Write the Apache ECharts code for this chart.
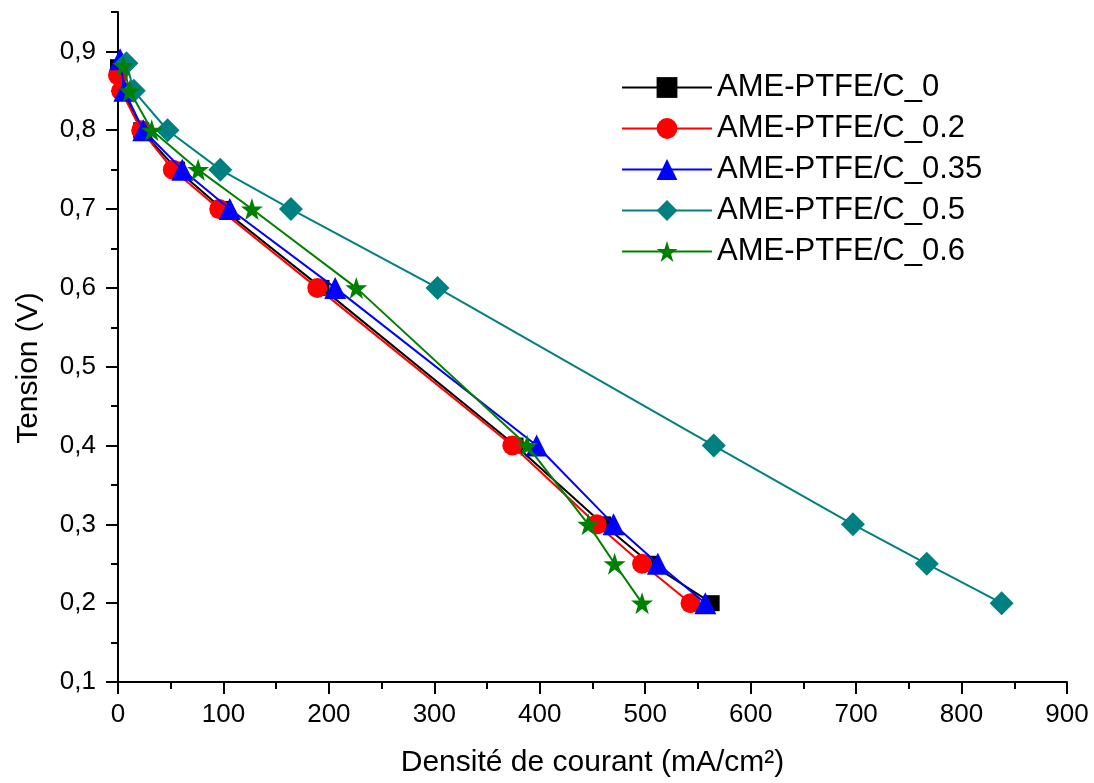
<!DOCTYPE html>
<html>
<head>
<meta charset="utf-8">
<script src="https://cdn.jsdelivr.net/npm/echarts@6/dist/echarts.min.js"></script>
<style>
html,body{margin:0;padding:0;background:#fff;}
#chart{width:1094px;height:783px;}
</style>
</head>
<body>
<div id="chart"></div>
<script>
// ---- Data (x: current density mA/cm², y: voltage V) ----
const seriesNames = ['AME-PTFE/C_0','AME-PTFE/C_0.2','AME-PTFE/C_0.35','AME-PTFE/C_0.5','AME-PTFE/C_0.6'];
const ptfe0   = [[0,0.88],[5,0.85],[22,0.80],[56,0.75],[99,0.70],[193,0.60],[377,0.40],[460,0.30],[505,0.25],[563,0.20]];
const ptfe02  = [[0,0.87],[3,0.85],[22,0.80],[52,0.75],[96,0.70],[189,0.60],[374,0.40],[454,0.30],[497,0.25],[543,0.20]];
const ptfe035 = [[2,0.89],[6,0.85],[24,0.80],[61,0.75],[106,0.70],[206,0.60],[397,0.40],[470,0.30],[512,0.25],[557,0.20]];
const ptfe05  = [[8,0.885],[15,0.85],[47,0.80],[97,0.75],[164,0.70],[303,0.60],[565,0.40],[697,0.30],[767,0.25],[838,0.20]];
const ptfe06  = [[5,0.882],[11,0.85],[32,0.80],[76,0.75],[127,0.70],[226,0.60],[388,0.40],[446,0.30],[471,0.25],[497,0.20]];
const yMajorTicks = [0.1,0.2,0.3,0.4,0.5,0.6,0.7,0.8,0.9];
const yMinorTicks = [0.15,0.25,0.35,0.45,0.55,0.65,0.75,0.85,0.95];
const xTitle = 'Densité de courant (mA/cm²)';
const yTitle = 'Tension (V)';

const colors = ['#000000','#ff0000','#0000ff','#008080','#008000'];
const symbols = ['rect','circle','triangle','diamond','path://M50,0 L61.8,35.1 L98.1,35.1 L68.8,56.7 L79.4,91.5 L50,70 L20.6,91.5 L31.2,56.7 L1.9,35.1 L38.2,35.1 Z'];
const sizes = [16,20,22,24,22];
const datasets = [ptfe0, ptfe02, ptfe035, ptfe05, ptfe06];

const chart = echarts.init(document.getElementById('chart'));
const font = 'Liberation Sans, Arial, sans-serif';
chart.setOption({
  animation:false,
  backgroundColor:'#ffffff',
  grid:{left:118,right:27,top:12,bottom:101,containLabel:false},
  legend:{
    orient:'vertical', left:616, top:67,
    itemWidth:90, itemHeight:26, itemGap:10,
    textStyle:{fontFamily:font,fontSize:31,color:'#000',lineHeight:30,padding:[0,0,0,0]},
    data:seriesNames
  },
  xAxis:{
    type:'value', min:0, max:900, interval:100,
    name:xTitle, nameLocation:'middle', nameGap:66,
    nameTextStyle:{fontFamily:font,fontSize:30,color:'#000'},
    axisLine:{show:true,onZero:false,lineStyle:{color:'#000',width:2}},
    axisTick:{show:true,inside:false,length:12,lineStyle:{color:'#000',width:2}},
    minorTick:{show:true,splitNumber:2,length:7,lineStyle:{color:'#000',width:2}},
    axisLabel:{fontFamily:font,fontSize:26,color:'#000',margin:20},
    splitLine:{show:false}, minorSplitLine:{show:false}
  },
  yAxis:[{
    type:'value', min:0.1, max:0.95,
    name:yTitle, nameLocation:'middle', nameGap:74,
    nameTextStyle:{fontFamily:font,fontSize:30,color:'#000',padding:[0,42,0,0]},
    axisLine:{show:true,onZero:false,lineStyle:{color:'#000',width:2}},
    axisTick:{show:true,length:12,customValues:yMajorTicks,lineStyle:{color:'#000',width:2}},
    axisLabel:{fontFamily:font,fontSize:26,color:'#000',margin:22,customValues:yMajorTicks,
      formatter:v=>v.toFixed(1).replace('.',',')},
    splitLine:{show:false}
  },{
    type:'value', min:0.1, max:0.95, position:'left',
    axisLine:{show:false},
    axisTick:{show:true,length:7,customValues:yMinorTicks,lineStyle:{color:'#000',width:2}},
    axisLabel:{show:false},
    splitLine:{show:false}
  }],
  series: datasets.map((d,i)=>({
    name:seriesNames[i], type:'line', data:d, yAxisIndex:0,
    symbol:symbols[i], symbolSize:sizes[i], showSymbol:true,
    lineStyle:{color:colors[i],width:2},
    itemStyle:{color:colors[i],borderWidth:0},
    z:2+i
  }))
});
</script>
</body>
</html>
